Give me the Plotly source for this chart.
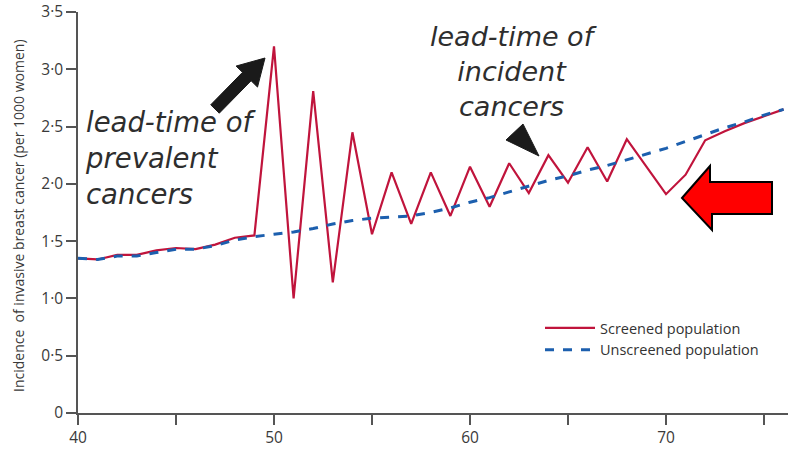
import math
import plotly.graph_objects as go

# ---- data ----
screened_age = [40, 41, 42, 43, 44, 45, 46, 47, 48, 49, 50, 51, 52, 53, 54, 55, 56, 57, 58, 59,
                60, 61, 62, 63, 64, 65, 66, 67, 68, 70, 71, 72, 73, 74, 75, 76]
screened_inc = [1.35, 1.34, 1.38, 1.38, 1.42, 1.44, 1.43, 1.47, 1.53, 1.55, 3.20, 1.00, 2.81, 1.14,
                2.45, 1.56, 2.10, 1.65, 2.10, 1.72, 2.15, 1.80, 2.18, 1.92, 2.25, 2.01, 2.32, 2.02,
                2.39, 1.91, 2.08, 2.38, 2.46, 2.53, 2.59, 2.65]
unscreened_age = list(range(40, 77))
unscreened_inc = [1.35, 1.34, 1.37, 1.37, 1.40, 1.43, 1.43, 1.46, 1.51, 1.54, 1.56, 1.58, 1.61, 1.65,
                  1.68, 1.70, 1.71, 1.72, 1.75, 1.79, 1.84, 1.88, 1.93, 1.98, 2.03, 2.07, 2.12, 2.16,
                  2.21, 2.26, 2.31, 2.37, 2.43, 2.49, 2.54, 2.60, 2.65]
x_tickvals = [40, 45, 50, 55, 60, 65, 70, 75]
x_ticktext = ["40", "", "50", "", "60", "", "70", ""]
y_tickvals = [0, 0.5, 1.0, 1.5, 2.0, 2.5, 3.0, 3.5]
y_ticktext = ["0", "0·5", "1·0", "1·5", "2·0", "2·5", "3·0", "3·5"]

# ---- layout geometry ----
W, H = 798, 454
ML, MR, MT, MB = 78, 10, 12, 41
XR = [40, 40 + (W - ML - MR) / 19.6]
YR = [0, 3.5]
PW, PH = W - ML - MR, H - MT - MB


def dx(px):
    return XR[0] + (px - ML) / PW * (XR[1] - XR[0])


def dy(py):
    return YR[0] + (H - MB - py) / PH * (YR[1] - YR[0])


def fx(px):
    return (px - ML) / PW


def fy(py):
    return (H - MB - py) / PH


def path(points):
    return "M " + " L ".join(f"{dx(a):.4f},{dy(b):.4f}" for a, b in points) + " Z"


fig = go.Figure()
fig.add_trace(go.Scatter(x=screened_age, y=screened_inc, mode="lines", name="Screened population",
                         line=dict(color="#c0143c", width=2.2)))
fig.add_trace(go.Scatter(x=unscreened_age, y=unscreened_inc, mode="lines", name="Unscreened population",
                         line=dict(color="#1c5fae", width=3, dash="dash")))

# black arrow (prevalent) pointing up-right
tail = (215, 109)
tip = (265, 58)
ux, uy = tip[0] - tail[0], tip[1] - tail[1]
L = math.hypot(ux, uy)
ux, uy = ux / L, uy / L
nx, ny = -uy, ux
hl, hw, sw = 26, 15, 6
base = (tip[0] - ux * hl, tip[1] - uy * hl)
arrow = [
    (tail[0] + nx * sw, tail[1] + ny * sw),
    (base[0] + nx * sw, base[1] + ny * sw),
    (base[0] + nx * hw, base[1] + ny * hw),
    tip,
    (base[0] - nx * hw, base[1] - ny * hw),
    (base[0] - nx * sw, base[1] - ny * sw),
    (tail[0] - nx * sw, tail[1] - ny * sw),
]
shapes = [
    dict(type="path", path=path(arrow), fillcolor="#1a1a1a", line=dict(color="#1a1a1a", width=1),
         xref="x", yref="y"),
    dict(type="path", path=path([(506, 140), (523, 124), (539, 156)]), fillcolor="#1a1a1a",
         line=dict(color="#1a1a1a", width=1), xref="x", yref="y"),
    dict(type="path", path=path([(682, 198), (710, 166), (710, 182), (772, 182), (772, 214),
                                 (712, 214), (712, 230)]),
         fillcolor="#ff0000", line=dict(color="#000000", width=2), xref="x", yref="y"),
]

annotations = [
    dict(text="lead-time of<br>prevalent<br>cancers", x=fx(83), y=fy(158), xref="paper", yref="paper",
         xanchor="left", yanchor="middle", align="left", showarrow=False,
         font=dict(family="DejaVu Sans", size=27.5, style="italic", color="#2e2e2e")),
    dict(text="lead-time of<br>incident<br>cancers", x=fx(513), y=fy(71), xref="paper", yref="paper",
         xanchor="center", yanchor="middle", align="center", showarrow=False,
         font=dict(family="DejaVu Sans", size=27, style="italic", color="#2e2e2e")),
    dict(text="Incidence  of invasive breast cancer (per 1000 women)", x=fx(18), y=fy(216),
         xref="paper", yref="paper", textangle=-90, showarrow=False, xanchor="center", yanchor="middle",
         font=dict(family="Open Sans", size=14, color="#3a3a3a")),
]

fig.update_layout(
    width=W, height=H, margin=dict(l=ML, r=MR, t=MT, b=MB, autoexpand=False),
    plot_bgcolor="white", paper_bgcolor="white",
    shapes=shapes, annotations=annotations,
    legend=dict(x=fx(540), y=fy(312), xref="paper", yref="paper",
                xanchor="left", yanchor="top", bgcolor="rgba(0,0,0,0)",
                font=dict(family="Open Sans", size=14.5, color="#333333"), tracegroupgap=0,
                itemwidth=50),
    showlegend=True,
)

fig.update_xaxes(range=XR, tickvals=x_tickvals, ticktext=x_ticktext, ticks="outside", ticklen=10,
                 tickcolor="#555555", tickwidth=1.5, showline=True, linecolor="#555555", linewidth=1.5,
                 showgrid=False, zeroline=False, automargin=False,
                 tickfont=dict(family="Open Sans", size=15.5, color="#3a3a3a"))
fig.update_yaxes(range=YR, tickvals=y_tickvals, ticktext=y_ticktext, ticks="outside", ticklen=10,
                 tickcolor="#555555", tickwidth=1.5, showline=True, linecolor="#555555", linewidth=1.5,
                 showgrid=False, zeroline=False, automargin=False,
                 tickfont=dict(family="Open Sans", size=15.5, color="#3a3a3a"))

fig.write_html("out.html")
